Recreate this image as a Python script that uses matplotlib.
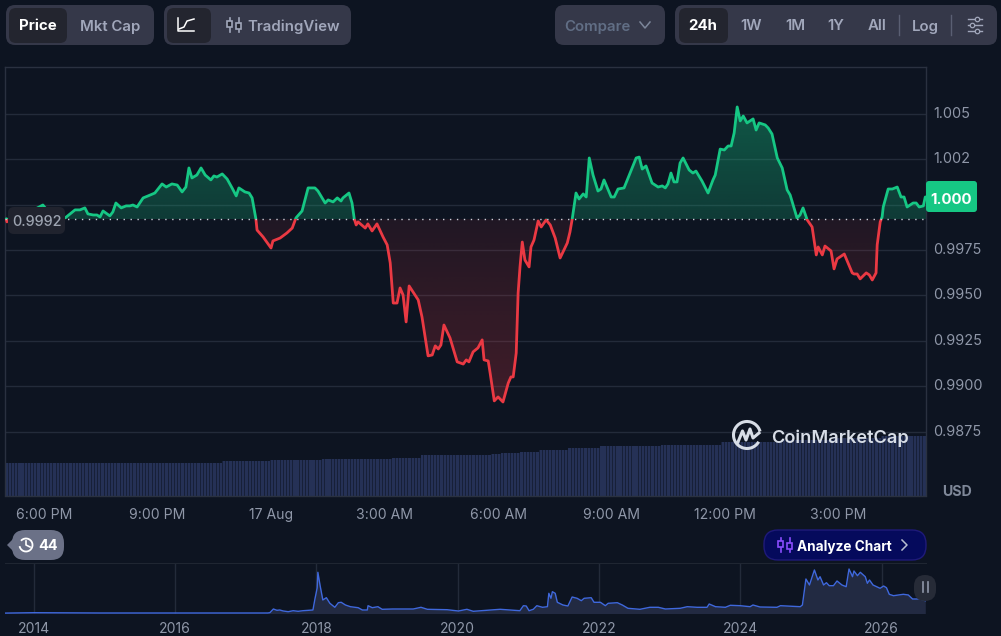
import numpy as np
import matplotlib
matplotlib.use("Agg")
import matplotlib.pyplot as plt
from matplotlib.patches import FancyBboxPatch, Rectangle, Arc, Polygon

plt.rcParams['font.family'] = ['Inter', 'DejaVu Sans']

W, H = 1001, 636

# 24h price, hours after 6:00 PM
hours = [
    -1.00, -0.98, -0.93, -0.63, -0.37, -0.03, 0.16, 0.37, 0.56, 0.82,
    0.95, 1.08, 1.16, 1.30, 1.40, 1.48, 1.56, 1.74, 1.82, 1.90,
    2.04, 2.17, 2.27, 2.35, 2.46, 2.62, 2.75, 2.93, 3.12, 3.23,
    3.38, 3.52, 3.65, 3.75, 3.83, 3.91, 4.04, 4.15, 4.26, 4.41,
    4.49, 4.57, 4.71, 4.84, 4.97, 5.08, 5.15, 5.31, 5.42, 5.50,
    5.60, 5.63, 5.79, 6.00, 6.05, 6.24, 6.42, 6.56, 6.66, 6.82,
    6.98, 7.16, 7.24, 7.43, 7.51, 7.64, 7.75, 7.85, 7.90, 8.06,
    8.14, 8.20, 8.25, 8.30, 8.49, 8.56, 8.67, 8.80, 8.96, 9.07,
    9.15, 9.23, 9.33, 9.41, 9.49, 9.57, 9.65, 9.89, 9.99, 10.15,
    10.26, 10.34, 10.42, 10.49, 10.57, 10.73, 10.92, 11.08, 11.16, 11.23,
    11.34, 11.47, 11.58, 11.63, 11.74, 11.79, 11.90, 12.00, 12.13, 12.27,
    12.34, 12.40, 12.48, 12.53, 12.58, 12.64, 12.71, 12.82, 12.87, 12.95,
    13.06, 13.14, 13.27, 13.38, 13.51, 13.64, 13.83, 13.90, 13.96, 14.06,
    14.14, 14.25, 14.33, 14.41, 14.51, 14.64, 14.72, 14.80, 14.99, 15.07,
    15.17, 15.33, 15.65, 15.73, 15.81, 15.91, 16.07, 16.23, 16.34, 16.42,
    16.49, 16.57, 16.65, 16.73, 16.81, 16.89, 17.05, 17.15, 17.23, 17.34,
    17.39, 17.55, 17.68, 17.74, 17.87, 17.98, 18.08, 18.16, 18.24, 18.32,
    18.40, 18.48, 18.58, 18.74, 18.82, 18.90, 19.06, 19.14, 19.24, 19.38,
    19.51, 19.64, 19.72, 19.90, 19.98, 20.06, 20.17, 20.30, 20.41, 20.46,
    20.57, 20.64, 20.80, 20.88, 20.96, 21.15, 21.25, 21.36, 21.41, 21.49,
    21.57, 21.73, 21.81, 21.89, 21.99, 22.02, 22.10, 22.15, 22.18, 22.31,
    22.42, 22.55, 22.65, 22.73, 22.81, 22.97, 23.05, 23.13, 23.24, 23.29,
    23.31,
]
price = [
    .99921, .99905, .99921, .99943, .99960, .99998, .99949, .99938, .99927, .99971,
    .99971, .99982, .99949, .99943, .99943, .99932, .99965, .99938, .99960, 1.00009,
    .99982, .99993, .99993, .99998, .99987, 1.00037, 1.00048, 1.00064, 1.00114, 1.00097,
    1.00114, 1.00108, 1.00070, 1.00097, 1.00202, 1.00147, 1.00163, 1.00202, 1.00163, 1.00136,
    1.00158, 1.00152, 1.00169, 1.00141, 1.00092, 1.00048, 1.00092, 1.00070, 1.00064, 1.00037,
    .99921, .99860, .99822, .99761, .99800, .99816, .99844, .99871, .99927, .99965,
    1.00092, 1.00092, 1.00075, 1.00009, 1.00026, 1.00015, 1.00037, 1.00020, 1.00037, 1.00064,
    1.00009, .99921, .99888, .99905, .99871, .99894, .99855, .99894, .99822, .99778,
    .99679, .99458, .99458, .99541, .99502, .99354, .99552, .99475, .99381, .99167,
    .99172, .99222, .99205, .99227, .99337, .99266, .99134, .99122, .99145, .99134,
    .99189, .99211, .99255, .99145, .99139, .99073, .98919, .98941, .98913, .99018,
    .99051, .99051, .99183, .99513, .99657, .99794, .99695, .99657, .99767, .99805,
    .99910, .99877, .99916, .99888, .99816, .99706, .99789, .99849, .99921, 1.00064,
    1.00031, 1.00059, 1.00042, 1.00257, 1.00163, 1.00075, 1.00086, 1.00136, 1.00042, 1.00042,
    1.00086, 1.00092, 1.00257, 1.00262, 1.00196, 1.00213, 1.00119, 1.00097, 1.00103, 1.00092,
    1.00114, 1.00174, 1.00125, 1.00125, 1.00229, 1.00257, 1.00191, 1.00174, 1.00185, 1.00147,
    1.00130, 1.00064, 1.00136, 1.00163, 1.00306, 1.00301, 1.00323, 1.00323, 1.00395, 1.00538,
    1.00461, 1.00488, 1.00450, 1.00472, 1.00411, 1.00450, 1.00439, 1.00422, 1.00389, 1.00257,
    1.00202, 1.00081, 1.00053, .99927, .99943, .99982, .99916, .99877, .99723, .99767,
    .99723, .99772, .99745, .99646, .99701, .99728, .99679, .99624, .99618, .99618,
    .99591, .99624, .99613, .99585, .99624, .99778, .99905, .99932, .99987, 1.00086,
    1.00086, 1.00097, 1.00042, 1.00042, .99987, 1.00009, 1.00009, .99987, .99993, 1.00042,
    1.00042,
]
open_price = 0.9992

y_ticks = [1.005, 1.0025, 1.0, 0.9975, 0.995, 0.9925, 0.99, 0.9875]
y_labels = ['1.005', '1.002', '', '0.9975', '0.9950', '0.9925', '0.9900', '0.9875']
x_ticks = [0, 3, 6, 9, 12, 15, 18, 21]
x_labels = ['6:00 PM', '9:00 PM', '17 Aug', '3:00 AM', '6:00 AM', '9:00 AM', '12:00 PM', '3:00 PM']

# volume bars, level and how many bars stay at it (no scale shown on the chart)
vol_levels = [33, 34.2, 35.2, 36.2, 37.8, 40.5, 41.5, 42.8, 44, 46, 47.5, 49.5, 51, 54, 55.5, 57.5, 60]
vol_counts = [68, 15, 16, 22, 9, 22, 3, 6, 6, 9, 10, 19, 19, 19, 16, 15, 14]

# all-time strip at the bottom
hist_year = [
    2013.59, 2014.00, 2014.93, 2016.35, 2017.31, 2017.34, 2017.39, 2017.44, 2017.48, 2017.53,
    2017.60, 2017.67, 2017.74, 2017.81, 2017.95, 2017.98, 2018.01, 2018.02, 2018.05, 2018.09,
    2018.14, 2018.19, 2018.26, 2018.31, 2018.35, 2018.41, 2018.48, 2018.59, 2018.65, 2018.72,
    2018.73, 2018.79, 2018.87, 2018.93, 2019.08, 2019.37, 2019.48, 2019.57, 2019.85, 2020.01,
    2020.13, 2020.22, 2020.60, 2020.88, 2020.93, 2020.97, 2021.01, 2021.07, 2021.12, 2021.20,
    2021.27, 2021.29, 2021.32, 2021.34, 2021.38, 2021.41, 2021.49, 2021.56, 2021.62, 2021.69,
    2021.75, 2021.79, 2021.89, 2021.93, 2022.02, 2022.09, 2022.13, 2022.26, 2022.33, 2022.41,
    2022.58, 2022.72, 2022.84, 2022.94, 2023.15, 2023.25, 2023.39, 2023.53, 2023.56, 2023.65,
    2023.79, 2023.86, 2024.00, 2024.14, 2024.18, 2024.28, 2024.52, 2024.57, 2024.85, 2024.88,
    2024.93, 2024.98, 2025.05, 2025.10, 2025.13, 2025.18, 2025.22, 2025.26, 2025.32, 2025.37,
    2025.44, 2025.50, 2025.54, 2025.59, 2025.61, 2025.66, 2025.70, 2025.77, 2025.80, 2025.83,
    2025.88, 2025.98, 2026.03, 2026.07, 2026.11, 2026.17, 2026.31, 2026.38, 2026.44, 2026.55,
    2026.62,
]
hist_value = [
    0.4, 0.8, 0.5, 0.5, 0.5, 0.8, 4.5, 3.2, 3.5, 2.5,
    1.8, 2.8, 2.2, 2.8, 3.5, 15.2, 25.5, 41.2, 28.5, 13.5,
    15.8, 10.2, 6.2, 10.8, 11.2, 8.5, 6.8, 5.8, 3.5, 3.5,
    7.8, 5.8, 6.8, 4.2, 4.5, 4.5, 6.2, 4.2, 3.8, 2.5,
    4.2, 2.2, 4.2, 2.8, 7.8, 7.5, 2.8, 4.2, 7.8, 6.2,
    6.8, 20.2, 15.2, 21.8, 20.2, 11.2, 8.5, 7.5, 16.5, 15.2,
    12.8, 15.2, 15.8, 11.2, 11.2, 7.8, 10.2, 10.8, 8.5, 5.2,
    4.2, 6.2, 6.2, 4.5, 5.2, 6.8, 6.2, 6.2, 9.5, 6.8,
    6.2, 8.2, 7.8, 6.8, 8.5, 6.5, 6.2, 7.8, 6.8, 8.5,
    34.5, 28.5, 43.5, 33.5, 36.8, 28.5, 30.8, 27.8, 27.8, 32.5,
    28.5, 26.8, 44.5, 36.8, 42.5, 37.8, 41.2, 36.8, 30.2, 33.5,
    28.5, 25.2, 27.5, 25.8, 19.2, 17.8, 19.2, 18.5, 14.5, 14.5,
    12.8,
]
hist_ticks = [2014, 2016, 2018, 2020, 2022, 2024, 2026]

BG = '#0d1421'
GRID = '#232b3a'
TICK = '#8f97a8'
GREEN = '#16c784'
RED = '#ea3943'


def px_axes(left, top, right, bottom, **kw):
    return fig.add_axes([left / W, 1 - bottom / H, (right - left) / W, (bottom - top) / H], **kw)


def gradient_fill(ax, x, y1, color, alpha_base, alpha_far, extent):
    poly = ax.fill_between(x, open_price, y1, facecolor='none', edgecolor='none')
    grad = np.zeros((128, 2, 4))
    grad[..., :3] = matplotlib.colors.to_rgb(color)
    grad[..., 3] = np.linspace(alpha_far, alpha_base, 128)[:, None]
    im = ax.imshow(grad, extent=extent, aspect='auto', origin='upper', zorder=1, interpolation='bilinear')
    im.set_clip_path(poly.get_paths()[0], transform=ax.transData)


fig = plt.figure(figsize=(W / 100, H / 100), dpi=100, facecolor=BG)

# main price panel
t0, t1 = -1.031, 23.31
p0, p1 = 0.98398, 1.00758
ax = px_axes(5, 67, 926, 495.5, facecolor=BG)
hours_a = np.array(hours)
price_a = np.array(price)

vol = np.repeat(vol_levels, vol_counts)
bar_step = (t1 - t0) / len(vol)
bar_x = t0 + bar_step * (np.arange(len(vol)) + 0.5)
ax_vol = ax.twinx()
ax_vol.set_ylim(0, 428.5)
ax_vol.bar(bar_x, vol, width=bar_step, color='#172038', linewidth=0)
ax_vol.bar(bar_x, vol, width=bar_step * 0.7, color='#253156', linewidth=0)
ax_vol.axis('off')
ax.set_zorder(ax_vol.get_zorder() + 1)
ax.patch.set_visible(False)
ax_vol.patch.set_visible(True)

ax.grid(axis='y', color=GRID, lw=1)
ax.set_axisbelow(True)

gradient_fill(ax, hours_a, np.maximum(price_a, open_price), GREEN, 0.22, 0.38, [t0, t1, open_price, 1.0055])
gradient_fill(ax, hours_a, np.minimum(price_a, open_price), RED, 0.09, 0.24, [t0, t1, open_price, 0.989])

up, = ax.plot(hours, price, color=GREEN, lw=2.0, zorder=3, solid_joinstyle='round')
down, = ax.plot(hours, price, color=RED, lw=2.0, zorder=3, solid_joinstyle='round')
up.set_clip_path(Rectangle((t0, open_price), t1 - t0, p1 - open_price, transform=ax.transData))
down.set_clip_path(Rectangle((t0, p0), t1 - t0, open_price - p0, transform=ax.transData))
ax.axhline(open_price, color='#c9ced8', lw=1, dashes=(1, 4), zorder=4)

ax.set_xlim(t0, t1)
ax.set_ylim(p0, p1)
ax.yaxis.tick_right()
ax.set_yticks(y_ticks)
ax.set_yticklabels(y_labels, fontsize=10.4, color=TICK, va='center')
ax.set_xticks(x_ticks)
ax.set_xticklabels(x_labels, fontsize=10.1, color=TICK)
ax.tick_params(axis='both', length=0)
ax.tick_params(axis='y', pad=5)
ax.tick_params(axis='x', pad=9)
for s in ax.spines.values():
    s.set_color('#2a3140')
    s.set_linewidth(1)

# all-time strip
ax_h = px_axes(5, 563, 926, 613.5, facecolor=BG)
ax_h.fill_between(hist_year, 0, hist_value, color='#222a42', lw=0)
ax_h.plot(hist_year, hist_value, color='#3f68dc', lw=1)
ax_h.set_xlim(2013.59, 2026.63)
ax_h.set_ylim(0, 50.5)
ax_h.set_xticks(hist_ticks)
ax_h.set_xticklabels([str(y) for y in hist_ticks], fontsize=10.1, color=TICK)
ax_h.set_yticks([])
ax_h.grid(axis='x', color=GRID, lw=1)
ax_h.set_axisbelow(True)
ax_h.tick_params(axis='x', length=0, pad=6)
for name, s in ax_h.spines.items():
    s.set_visible(name == 'top')
    s.set_color('#1f2632')

# buttons, badges and logo, in pixel coordinates
ui = fig.add_axes([0, 0, 1, 1], facecolor='none')
ui.set_zorder(10)
ui.set_xlim(0, W)
ui.set_ylim(H, 0)
ui.axis('off')


def pill(x0, y0, x1, y1, color, r=9, ec='none', lw=0, z=2):
    ui.add_patch(FancyBboxPatch((x0 + r, y0 + r), x1 - x0 - 2 * r, y1 - y0 - 2 * r,
                                boxstyle='round,pad=%g,rounding_size=%g' % (r, r),
                                fc=color, ec=ec, lw=lw, zorder=z))


def label(x, y, s, color='#a1a7bb', size=10.8, weight='semibold', ha='center'):
    ui.text(x, y, s, color=color, fontsize=size, fontweight=weight, ha=ha, va='center_baseline', zorder=6)


def candle_icon(x, y, color, lw=1.2):
    for dx in [-4.5, 4.5]:
        ui.plot([x + dx, x + dx], [y - 7, y + 7], color=color, lw=lw, zorder=6)
        ui.add_patch(Rectangle((x + dx - 2.5, y - 3 + dx * 0.3), 5, 6, fc=ACTIVE if color != '#8b4dff' else '#050a5c',
                               ec=color, lw=lw, zorder=7))


PANEL = '#353849'
ACTIVE = '#23252f'
pill(6, 5, 154, 45, PANEL)
pill(9, 8, 67, 43, ACTIVE, r=7, z=3)
label(38, 25, 'Price', 'white', weight='bold')
label(110, 25, 'Mkt Cap')

pill(164, 5, 351, 45, PANEL)
pill(167, 8, 211, 43, ACTIVE, r=7, z=3)
ui.plot([178, 178, 194], [18, 31, 31], color='white', lw=1.1, zorder=6)
ui.plot([179, 184, 187, 194], [29, 27, 21, 19], color='white', lw=1.1, zorder=6)
candle_icon(234, 25, '#a1a7bb')
label(294, 25, 'TradingView')

pill(555, 5, 665, 45, PANEL)
label(597, 25, 'Compare', '#616e85')
ui.plot([640, 645, 650], [22, 28, 22], color='#7c869a', lw=1.1, zorder=6)

pill(675, 5, 997, 45, PANEL)
pill(679, 8, 728, 43, ACTIVE, r=7, z=3)
label(703, 25, '24h', 'white', weight='bold')
for x, s in [(751, '1W'), (795, '1M'), (836, '1Y'), (877, 'All'), (925, 'Log')]:
    label(x, 25, s)
for x in [899, 951]:
    ui.plot([x, x], [15, 35], color='#5a5f73', lw=1, zorder=6)
for y, dot in [(19, 977), (25, 972), (31, 977)]:
    ui.plot([968, 982], [y, y], color='#a1a7bb', lw=1, zorder=6)
    ui.plot([dot], [y], 'o', ms=3.2, mfc=PANEL, mec='#a1a7bb', mew=0.9, zorder=7)

# price tags
pill(8, 207, 65, 234, '#20232e', r=6, z=5)
label(37, 221, '0.9992', '#9ca3b0', size=10.4, weight='medium')
pill(926, 181, 977, 212, GREEN, r=3, z=5)
label(951.5, 198, '1.000', 'white', weight='bold')
label(957, 491, 'USD', '#7f8899', size=10.2, weight='bold')

# history badge
pill(12, 530, 64, 560, '#6b7187', r=13)
ui.add_patch(Polygon([[7, 545], [16, 536], [16, 554]], fc='#6b7187', ec='none', zorder=2))
ui.add_patch(Arc((26, 545), 13, 13, theta1=-140, theta2=170, color='white', lw=1.3, zorder=6))
ui.plot([26, 26, 30], [541, 545, 547], color='white', lw=1.2, zorder=6)
label(48, 545, '44', 'white', size=10.4, weight='bold')

# analyze button
pill(764, 530, 926, 560, '#050a5c', r=14, ec='#1f1a7a', lw=1)
candle_icon(785, 545, '#8b4dff')
label(844, 545, 'Analyze Chart', 'white', size=9.8, weight='bold')
ui.plot([902, 907, 902], [540, 545, 550], color='#b8bfd0', lw=1.1, zorder=6)

# pause handle on the strip
pill(914, 575, 936, 601, '#262b37', r=11, z=5)
for x in [922.5, 927.5]:
    ui.plot([x, x], [582, 592], color='#8f97a8', lw=1.2, zorder=6)

# watermark
LOGO = '#d7dde6'
ui.add_patch(Arc((747, 435), 27, 27, theta1=30, theta2=345, color=LOGO, lw=2.2, zorder=6))
ui.plot([738, 742.5, 746, 750, 753, 759], [442, 431, 440, 429, 438, 433], color=LOGO, lw=2.2, zorder=6)
label(771, 436, 'CoinMarketCap', LOGO, size=13.1, weight='semibold', ha='left')

fig.savefig('out.png', dpi=100, facecolor=BG)
